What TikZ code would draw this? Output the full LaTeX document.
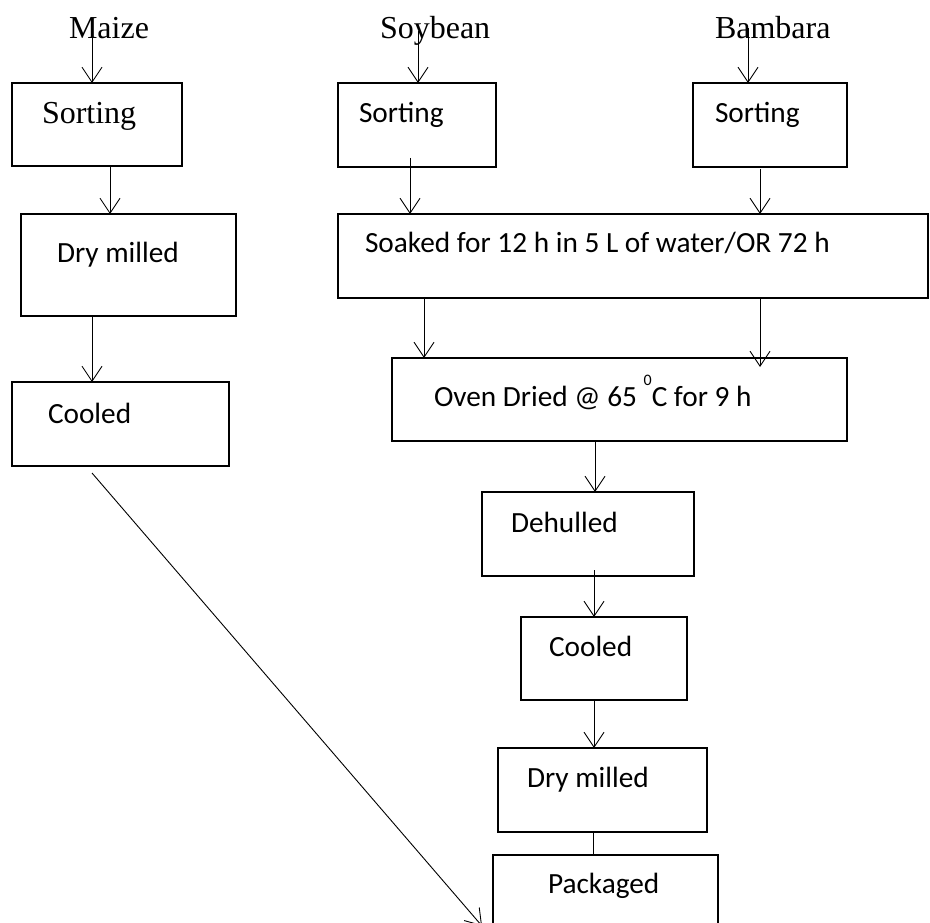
\documentclass[tikz,border=0pt]{standalone}
\usepackage{fontspec}
\usetikzlibrary{arrows.meta,calc}
\newfontfamily\tnrfont{Liberation Serif}
\newfontfamily\calfont{Carlito}
\tikzset{
  box/.style={draw, line width=2pt, inner sep=0pt, outer sep=0pt},
  arr/.style={line width=0.9pt, -{Straight Barb[length=15pt,width=20pt,line width=0.9pt]}},
  plain/.style={line width=0.9pt},
  lab/.style={inner sep=0pt, outer sep=0pt, anchor=base west, font=\tnrfont\fontsize{32}{35}\selectfont},
  tsort/.style={inner sep=0pt, outer sep=0pt, anchor=base west, font=\tnrfont\fontsize{32}{35}\selectfont},
  txt/.style={inner sep=0pt, outer sep=0pt, anchor=base west, font=\calfont\fontsize{29.3}{33}\selectfont}
}
\begin{document}
\begin{tikzpicture}[x=1pt,y=-1pt]
\useasboundingbox (0,0) rectangle (930,923);
\fill[white] (0,0) rectangle (930,923);
\clip (0,0) rectangle (930,923);
% boxes
\node[box, minimum width=170pt, minimum height=83pt] (ms) at (97,124.5) {};
\node[box, minimum width=215pt, minimum height=102pt] (md) at (128.5,265) {};
\node[box, minimum width=217pt, minimum height=84pt] (mc) at (120.5,424) {};
\node[box, minimum width=158.5pt, minimum height=84pt] (ss) at (416.75,125) {};
\node[box, minimum width=154.3pt, minimum height=84pt] (bs) at (769.85,125) {};
\node[box, minimum width=590.5pt, minimum height=84pt] (soak) at (632.75,256) {};
\node[box, minimum width=455pt, minimum height=83pt] (oven) at (619.5,399.5) {};
\node[box, minimum width=212pt, minimum height=84pt] (deh) at (588,534) {};
\node[box, minimum width=166pt, minimum height=83pt] (cool) at (604,658.5) {};
\node[box, minimum width=209pt, minimum height=84pt] (dmil) at (602.5,790) {};
\node[box, minimum width=225pt, minimum height=105pt] (pack) at (605.5,907.5) {};
% texts
\node[lab] (maize) at (69,39) {Maize};
\node[lab] (soy) at (380,39) {Soybean};
\node[lab] (bam) at (715,39) {Bambara};
\node[tsort] (mst) at (42,124) {Sorting};
\node[txt] (mdt) at (57,262) {Dry milled};
\node[txt] (mct) at (48,423) {Cooled};
\node[txt] (sst) at (359,123) {Sorting};
\node[txt] (bst) at (715,123) {Sorting};
\node[txt] (soakt) at (365,253) {Soaked for 12 h in 5 L of water/OR 72 h};
\node[txt] (ovent) at (434,406) {Oven Dried @ 65 \raisebox{21pt}{\fontsize{16}{18}\selectfont 0}C for 9 h};
\node[txt] (deht) at (511,532) {Dehulled};
\node[txt] (coolt) at (549,656) {Cooled};
\node[txt] (dmilt) at (527,787) {Dry milled};
\node[txt] (packt) at (548,893) {Packaged};
\coordinate (dend) at (482,926);
% connectors
\draw[arr] (maize.center -| 92,0) -- (ms.north -| 92,0);
\draw[arr] (ms.south -| 110,0) -- (md.north -| 110,0);
\draw[arr] (md.south -| 92,0) -- (mc.north -| 92,0);
\draw[arr] ($(mc.south -| 92,0)+(0,7)$) -- (dend);
\draw[arr] (soy.center -| 418,0) -- (ss.north -| 418,0);
\draw[arr] (bam.center -| 748,0) -- (bs.north -| 748,0);
\draw[arr] ($(ss.south -| 410,0)+(0,-9)$) -- (soak.north -| 410,0);
\draw[arr] ($(bs.south -| 760,0)+(0,2)$) -- (soak.north -| 760,0);
\draw[arr] (soak.south -| 424,0) -- (oven.north -| 424,0);
\draw[arr] (soak.south -| 760,0) -- ($(oven.north -| 760,0)+(0,9)$);
\draw[arr] (oven.south -| 595,0) -- (deh.north -| 595,0);
\draw[arr] ($(deh.south -| 594,0)+(0,-6)$) -- (cool.north -| 594,0);
\draw[arr] (cool.south -| 594,0) -- (dmil.north -| 594,0);
\draw[plain] (dmil.south -| 593,0) -- (pack.north -| 593,0);
\end{tikzpicture}
\end{document}
